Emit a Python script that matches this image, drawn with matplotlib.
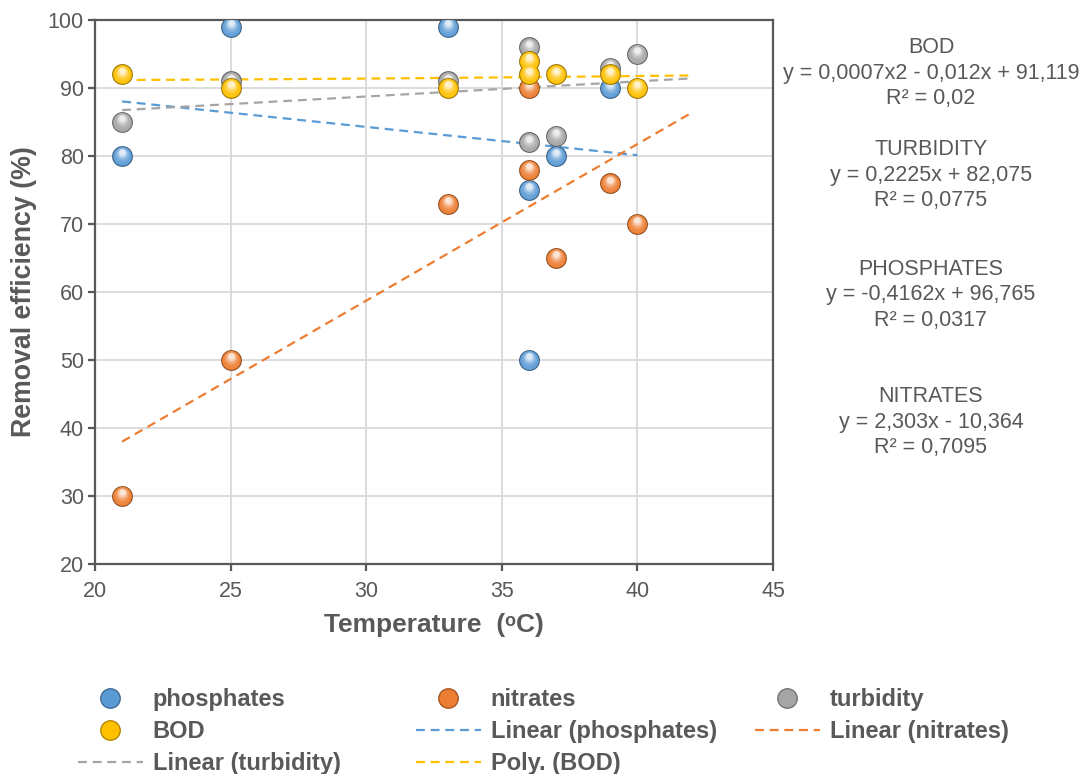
import numpy as np
import matplotlib
matplotlib.use('Agg')
import matplotlib.pyplot as plt
from matplotlib.lines import Line2D
from matplotlib.transforms import ScaledTranslation
from matplotlib.colors import to_rgb

plt.rcParams['font.family'] = ['Liberation Sans', 'DejaVu Sans']

# --- data ---
phos_t = [21, 25, 33, 36, 36, 37, 39]
phos_v = [80, 99, 99, 75, 50, 80, 90]

nitr_t = [21, 25, 33, 36, 36, 37, 39, 40]
nitr_v = [30, 50, 73, 90, 78, 65, 76, 70]

turb_t = [21, 25, 33, 36, 36, 37, 39, 40]
turb_v = [85, 91, 91, 96, 82, 83, 93, 95]

bod_t = [21, 25, 33, 36, 36, 37, 39, 40]
bod_v = [92, 90, 90, 94, 92, 92, 92, 90]

# trendline coefficients (highest power first) and x ranges
phos_fit = [-0.4162, 96.765]
nitr_fit = [2.303, -10.364]
turb_fit = [0.2225, 82.075]
bod_fit = [0.0007, -0.012, 91.119]
phos_range = [21, 40]
nitr_range = [21, 42]
turb_range = [21, 42]
bod_range = [21, 42]

equations = [
    ('BOD', 'y = 0,0007x2 - 0,012x + 91,119', 'R² = 0,02'),
    ('TURBIDITY', 'y = 0,2225x + 82,075', 'R² = 0,0775'),
    ('PHOSPHATES', 'y = -0,4162x + 96,765', 'R² = 0,0317'),
    ('NITRATES', 'y = 2,303x - 10,364', 'R² = 0,7095'),
]
eq_y = [73, 175, 295, 422]  # pixel rows of the middle lines

BLUE = '#5B9BD5'
ORANGE = '#ED7D31'
GRAY = '#A5A5A5'
GOLD = '#FFC000'
TXT = '#595959'


def mix(c, w, f):
    c = np.array(to_rgb(c))
    w = np.array(to_rgb(w))
    return tuple(c * (1 - f) + w * f)


fig = plt.figure(figsize=(10.83, 7.74), dpi=100)
ax = fig.add_axes([95 / 1083, 1 - 564 / 774, 678 / 1083, 544 / 774])


def spheres(x, y, color, ms=15):
    # shaded ball markers: dark rim, then lighter layers moving upward
    ax.plot(x, y, 'o', ms=ms, color=mix(color, 'black', 0.4), mec='none', zorder=5)
    steps = 8
    for i in range(steps):
        f = i / (steps - 1)
        size = ms * (0.9 - 0.6 * f)
        off = ScaledTranslation(0, 2.6 * f / 72, fig.dpi_scale_trans)
        ax.plot(x, y, 'o', ms=size, color=mix(color, 'white', 0.05 + 0.75 * f ** 2),
                mec='none', transform=ax.transData + off, zorder=5)


spheres(phos_t, phos_v, BLUE)
spheres(nitr_t, nitr_v, ORANGE)
spheres(turb_t, turb_v, GRAY)
spheres(bod_t, bod_v, GOLD)

dash = (0, (4, 2.6))
for fit, rng, col in [(phos_fit, phos_range, BLUE), (nitr_fit, nitr_range, ORANGE),
                      (turb_fit, turb_range, GRAY), (bod_fit, bod_range, GOLD)]:
    xs = np.linspace(rng[0], rng[1], 50)
    ax.plot(xs, np.polyval(fit, xs), color=col, lw=1.6, ls=dash, zorder=4)

ax.set_xlim(20, 45)
ax.set_ylim(20, 100)
ax.set_xticks(range(20, 46, 5))
ax.set_yticks(range(20, 101, 10))
ax.grid(True, color='#D9D9D9', lw=1.3)
ax.set_axisbelow(True)
for s in ax.spines.values():
    s.set_color(TXT)
    s.set_linewidth(1.6)
ax.tick_params(colors=TXT, labelsize=15.5, width=1.6, length=5, direction='out')
ax.tick_params(axis='x', pad=7)
ax.tick_params(axis='y', pad=3)

ax.set_xlabel('Temperature  (ᵒC)', fontsize=19, fontweight='bold', color=TXT, labelpad=8)
ax.set_ylabel('Removal efficiency (%)', fontsize=19.3, fontweight='bold', color=TXT, labelpad=8)

# equation labels on the right
for (name, eq, r2), py in zip(equations, eq_y):
    fig.text(931 / 1083, 1 - py / 774, name + '\n' + eq + '\n' + r2, ha='center', va='center',
             fontsize=15.5, color=TXT, linespacing=1.3)


# legend, three columns placed like the reference
def ball_handle(color, label):
    return Line2D([], [], ls='none', marker='o', ms=14, color=color,
                  mec=mix(color, 'black', 0.3), label=label)


def line_handle(color, label):
    return Line2D([], [], color=color, lw=1.6, ls=dash, label=label)


col1 = [ball_handle(BLUE, 'phosphates'), ball_handle(GOLD, 'BOD'),
        line_handle(GRAY, 'Linear (turbidity)')]
col2 = [ball_handle(ORANGE, 'nitrates'), line_handle(BLUE, 'Linear (phosphates)'),
        line_handle(GOLD, 'Poly. (BOD)')]
col3 = [ball_handle(GRAY, 'turbidity'), line_handle(ORANGE, 'Linear (nitrates)')]

for hs, xpx in [(col1, 78), (col2, 416), (col3, 755)]:
    lg = fig.legend(handles=hs, loc='upper left', bbox_to_anchor=(xpx / 1083, 1 - 688 / 774),
                    frameon=False, fontsize=17, handlelength=2.75, handletextpad=0.42,
                    labelspacing=0.39, borderaxespad=0, borderpad=0)
    for t in lg.get_texts():
        t.set_color(TXT)
        t.set_fontweight('bold')

fig.savefig('out.png', dpi=100)
